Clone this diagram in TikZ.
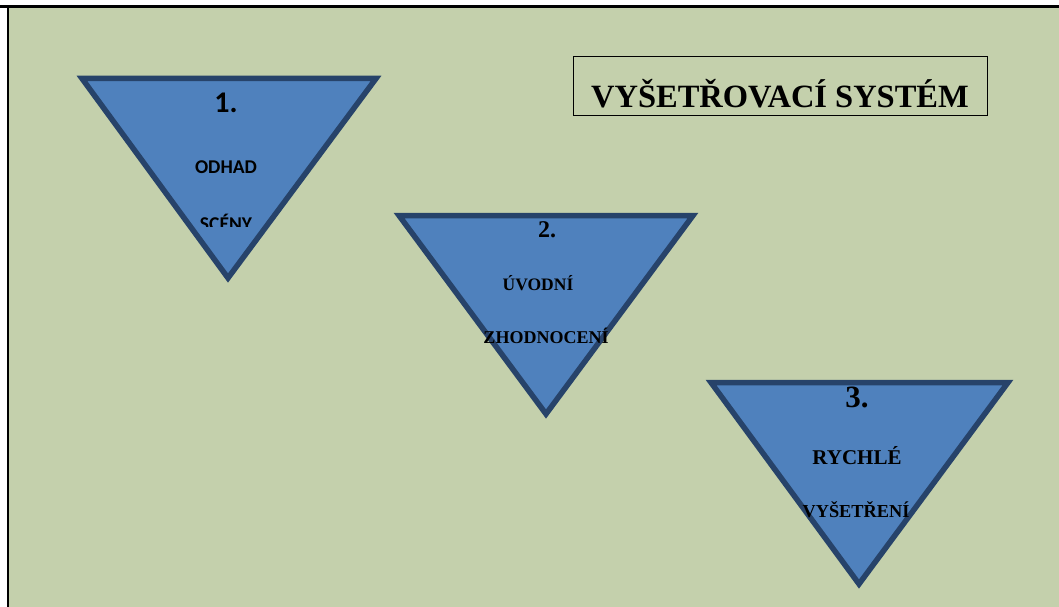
\documentclass[tikz,border=0pt]{standalone}
\usepackage{fontspec}
\setmainfont{Liberation Serif}
\newfontfamily\calibri{Carlito}
\usepackage{xcolor}
\definecolor{pozadi}{HTML}{C4D0AC}
\definecolor{modra}{HTML}{4F81BD}
\definecolor{obrys}{HTML}{27436A}

\tikzset{
  krok/.style={fill=modra,draw=obrys,line width=5.5pt,line join=miter},
  popis/.style={inner sep=0pt,anchor=base,font=\bfseries}
}
\newcommand{\vel}[1]{\fontsize{#1}{#1}\selectfont}

\begin{document}
\begin{tikzpicture}[x=1pt,y=-1pt]
            \useasboundingbox (0,0) rectangle (1059,607);
            \fill[white] (0,0) rectangle (1059,607);
            \fill[pozadi] (8,7) rectangle (1059,607);
            \draw[line width=2.5pt] (0,6.5) -- (1059,6.5);
            \draw[line width=2pt] (8,6.5) -- (8,607);
            % nadpis
            \node[draw,line width=1pt,minimum width=414,minimum height=59,inner sep=0pt] (ramec) at (780.5,86.5) {};
            \node[popis,font=\bfseries\vel{32.5}] (nazev) at (780,107) {VYŠETŘOVACÍ SYSTÉM};
            % 1. krok
            \begin{scope}
                \draw[krok] (82,78.5) coordinate (a1) -- (376,78.5) coordinate (b1) -- (228,278) coordinate (c1) -- cycle;
                \node[popis,font=\calibri\bfseries\vel{30}] (cislo1) at (226,113) {1.};
                \node[popis,font=\calibri\bfseries\vel{19.5}] (radek1a) at (226,173) {ODHAD};
                \clip (0,0) rectangle (1059,226);
                \node[popis,font=\calibri\bfseries\vel{19.5}] (radek1b) at (226,230) {SCÉNY};
            \end{scope}
            % 2. krok
            \begin{scope}
                \draw[krok] (399,215.5) coordinate (a2) -- (693,215.5) coordinate (b2) -- (546,414) coordinate (c2) -- cycle;
                \node[popis,font=\bfseries\vel{24}] (cislo2) at (547,237) {2.};
                \node[popis,font=\bfseries\vel{17.5}] (radek2a) at (538,290) {ÚVODNÍ};
                \node[popis,font=\bfseries\vel{18}] (radek2b) at (546,343) {ZHODNOCENÍ};
            \end{scope}
            % 3. krok
            \begin{scope}
                \draw[krok] (711,382.5) coordinate (a3) -- (1008,382.5) coordinate (b3) -- (859,584) coordinate (c3) -- cycle;
                \node[popis,font=\bfseries\vel{31}] (cislo3) at (857,407) {3.};
                \node[popis,font=\bfseries\vel{21}] (radek3a) at (857,464) {RYCHLÉ};
                \node[popis,font=\bfseries\vel{18.3}] (radek3b) at (856,517) {VYŠETŘENÍ};
            \end{scope}
        \end{tikzpicture}
\end{document}
